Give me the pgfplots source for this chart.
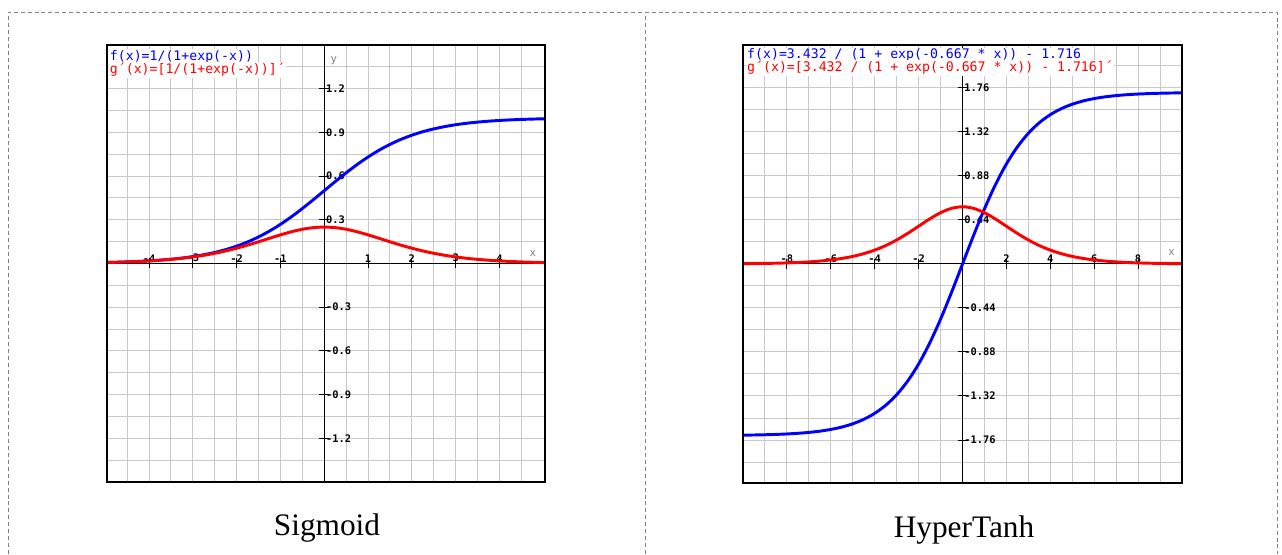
\documentclass[border=0pt]{standalone}
\usepackage{pgfplots}
\pgfplotsset{compat=1.18}
\usepackage{fontspec}
\setmainfont{Liberation Serif}
\newfontfamily\monof{DejaVu Sans Mono}
\newcommand{\tickf}{\monof\bfseries\fontsize{7.8}{8}\selectfont}
\newcommand{\legf}{\monof\fontsize{9.9}{10}\selectfont}
\definecolor{gridc}{RGB}{200,200,200}
\pgfplotsset{
  fnplot/.style={
    scale only axis,
    axis lines=middle,
    axis line style={-, black, line width=0.75pt},
    grid=both,
    major grid style={gridc, line width=0.75pt},
    minor grid style={gridc, line width=0.75pt},
    tick align=center,
    major tick length=7.5pt,
    minor tick length=0pt,
    tick style={black, line width=0.75pt},
    xticklabel style={font=\tickf, anchor=south, inner sep=0pt, yshift=4.6pt},
    yticklabel style={font=\tickf, anchor=west, inner sep=0pt, xshift=4.9pt},
  },
  bl/.style={blue, line width=2.2pt, smooth},
  rd/.style={red, line width=2.2pt, smooth},
}
\begin{document}
\begin{tikzpicture}
\path[use as bounding box] (0,0) rectangle (961.5pt,415.5pt);
% dashed frame
\draw[gray, line width=0.6pt, dash pattern=on 3pt off 2.2pt]
  (6pt,0) -- (6pt,406.5pt) -- (957.75pt,406.5pt) -- (957.75pt,0);
\draw[gray, line width=0.6pt, dash pattern=on 3pt off 2.2pt]
  (483.75pt,0) -- (483.75pt,406.5pt);

% ---------------- Sigmoid ----------------
\begin{axis}[fnplot, name=L,
  at={(80.25pt,54pt)}, anchor=south west,
  width=328.5pt, height=327.75pt,
  xmin=-4.96, xmax=5.04, ymin=-1.5, ymax=1.5,
  xtick={-4,-3,-2,-1,1,2,3,4},
  xticklabels={-4,-3,-2,-1,1,2,3,4},
  minor xtick={-4.5,-3.5,-2.5,-1.5,-0.5,0.5,1.5,2.5,3.5,4.5},
  ytick={-1.2,-0.9,-0.6,-0.3,0.3,0.6,0.9,1.2},
  yticklabels={-1.2,-0.9,-0.6,-0.3,0.3,0.6,0.9,1.2},
  minor ytick={-1.35,-1.05,-0.75,-0.45,-0.15,0.15,0.45,0.75,1.05,1.35},
]
\addplot[bl] coordinates {
(-5,0.0067)(-4.75,0.0086)(-4.5,0.0110)(-4.25,0.0141)(-4,0.0180)(-3.75,0.0230)
(-3.5,0.0293)(-3.25,0.0373)(-3,0.0474)(-2.75,0.0601)(-2.5,0.0759)(-2.25,0.0953)
(-2,0.1192)(-1.75,0.1480)(-1.5,0.1824)(-1.25,0.2227)(-1,0.2689)(-0.75,0.3208)
(-0.5,0.3775)(-0.25,0.4378)(0,0.5)(0.25,0.5622)(0.5,0.6225)(0.75,0.6792)
(1,0.7311)(1.25,0.7773)(1.5,0.8176)(1.75,0.8520)(2,0.8808)(2.25,0.9047)
(2.5,0.9241)(2.75,0.9399)(3,0.9526)(3.25,0.9627)(3.5,0.9707)(3.75,0.9770)
(4,0.9820)(4.25,0.9859)(4.5,0.9890)(4.75,0.9914)(5,0.9933)(5.1,0.9939)
};
\addplot[rd] coordinates {
(-5,0.0066)(-4.75,0.0085)(-4.5,0.0109)(-4.25,0.0139)(-4,0.0177)(-3.75,0.0225)
(-3.5,0.0284)(-3.25,0.0359)(-3,0.0452)(-2.75,0.0565)(-2.5,0.0701)(-2.25,0.0862)
(-2,0.1050)(-1.75,0.1261)(-1.5,0.1491)(-1.25,0.1731)(-1,0.1966)(-0.75,0.2179)
(-0.5,0.2350)(-0.25,0.2461)(0,0.25)(0.25,0.2461)(0.5,0.2350)(0.75,0.2179)
(1,0.1966)(1.25,0.1731)(1.5,0.1491)(1.75,0.1261)(2,0.1050)(2.25,0.0862)
(2.5,0.0701)(2.75,0.0565)(3,0.0452)(3.25,0.0359)(3.5,0.0284)(3.75,0.0225)
(4,0.0177)(4.25,0.0139)(4.5,0.0109)(4.75,0.0085)(5,0.0066)(5.1,0.0060)
};
\node[anchor=base, text=gray, font=\monof\fontsize{8}{9}\selectfont, inner sep=0pt] at (axis cs:4.76,0.045) {x};
\node[anchor=base, text=gray, font=\monof\fontsize{8}{9}\selectfont, inner sep=0pt] at (axis cs:0.22,1.38) {y};
\node[anchor=base west, fill=white, inner sep=1pt, text=blue, font=\legf] at (axis cs:-4.93,1.395) {f(x)=1/(1+exp(-x))};
\node[anchor=base west, fill=white, inner sep=1pt, text=red, font=\legf] at (axis cs:-4.93,1.305) {g´(x)=[1/(1+exp(-x))]´};
\end{axis}
\draw[black, line width=0.8pt] (L.south west) rectangle (L.north east);
\node[anchor=base, font=\fontsize{23.5}{26}\selectfont, inner sep=0pt] at (245.25pt,14.25pt) {Sigmoid};

% ---------------- HyperTanh ----------------
\begin{axis}[fnplot, name=R,
  at={(557.25pt,53.25pt)}, anchor=south west,
  width=329.25pt, height=328.5pt,
  xmin=-10, xmax=10, ymin=-2.19, ymax=2.19,
  xtick={-8,-6,-4,-2,2,4,6,8},
  xticklabels={-8,-6,-4,-2,2,4,6,8},
  minor xtick={-9,-7,-5,-3,-1,1,3,5,7,9},
  ytick={-1.76,-1.32,-0.88,-0.44,0.44,0.88,1.32,1.76},
  yticklabels={-1.76,-1.32,-0.88,-0.44,0.44,0.88,1.32,1.76},
  minor ytick={-1.98,-1.54,-1.10,-0.66,-0.22,0.22,0.66,1.10,1.54,1.98},
]
\addplot[bl] coordinates {
(-10,-1.7116)(-9.5,-1.7099)(-9,-1.7075)(-8.5,-1.7042)(-8,-1.6995)(-7.5,-1.6931)
(-7,-1.6841)(-6.5,-1.6716)(-6,-1.6543)(-5.5,-1.6306)(-5,-1.5979)(-4.5,-1.5534)
(-4,-1.4933)(-3.5,-1.4130)(-3,-1.3072)(-2.5,-1.1710)(-2,-1.0004)(-1.5,-0.7931)
(-1,-0.5519)(-0.5,-0.2835)(0,0)(0.5,0.2835)(1,0.5519)(1.5,0.7931)
(2,1.0004)(2.5,1.1710)(3,1.3072)(3.5,1.4130)(4,1.4933)(4.5,1.5534)
(5,1.5979)(5.5,1.6306)(6,1.6543)(6.5,1.6716)(7,1.6841)(7.5,1.6931)
(8,1.6995)(8.5,1.7042)(9,1.7075)(9.5,1.7099)(10,1.7116)
};
\addplot[rd] coordinates {
(-10,0.0029)(-9.5,0.0040)(-9,0.0056)(-8.5,0.0079)(-8,0.0109)(-7.5,0.0152)
(-7,0.0211)(-6.5,0.0292)(-6,0.0405)(-5.5,0.0556)(-5,0.0760)(-4.5,0.1034)
(-4,0.1389)(-3.5,0.1843)(-3,0.2402)(-2.5,0.3058)(-2,0.3778)(-1.5,0.4500)
(-1,0.5131)(-0.5,0.5567)(0,0.5723)(0.5,0.5567)(1,0.5131)(1.5,0.4500)
(2,0.3778)(2.5,0.3058)(3,0.2402)(3.5,0.1843)(4,0.1389)(4.5,0.1034)
(5,0.0760)(5.5,0.0556)(6,0.0405)(6.5,0.0292)(7,0.0211)(7.5,0.0152)
(8,0.0109)(8.5,0.0079)(9,0.0056)(9.5,0.0040)(10,0.0029)
};
\node[anchor=base, text=gray, font=\monof\fontsize{8}{9}\selectfont, inner sep=0pt] at (axis cs:9.53,0.085) {x};
\node[anchor=base west, fill=white, inner sep=1pt, text=blue, font=\legf] at (axis cs:-9.88,2.05) {f(x)=3.432 / (1 + exp(-0.667 * x)) - 1.716};
\node[anchor=base west, fill=white, inner sep=1pt, text=red, font=\legf] at (axis cs:-9.88,1.92) {g´(x)=[3.432 / (1 + exp(-0.667 * x)) - 1.716]´};
\end{axis}
\draw[black, line width=0.8pt] (R.south west) rectangle (R.north east);
\node[anchor=base, font=\fontsize{23.5}{26}\selectfont, inner sep=0pt] at (723pt,12.75pt) {HyperTanh};
\end{tikzpicture}
\end{document}
